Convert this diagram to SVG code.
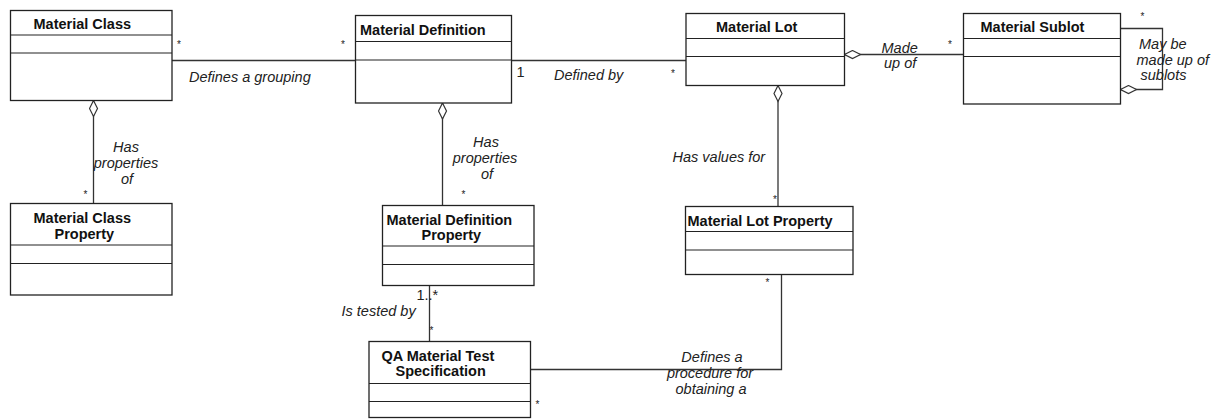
<svg xmlns="http://www.w3.org/2000/svg" width="1218" height="419" viewBox="0 0 1218 419">
<style>
.box{fill:#fff;stroke:#222;stroke-width:1.3}
.sep{stroke:#222;stroke-width:1.2}
.con{fill:none;stroke:#333;stroke-width:1.3}
.t{font-family:"Liberation Sans",Arial,sans-serif;font-size:14.5px;font-weight:bold;fill:#111}
.l{font-family:"Liberation Sans",Arial,sans-serif;font-size:14.5px;font-style:italic;fill:#222}
.m{font-family:"Liberation Sans",Arial,sans-serif;font-size:14.5px;fill:#222}
.s{font-family:"Liberation Sans",Arial,sans-serif;font-size:10px;fill:#222;text-anchor:middle}
</style>
<defs>
<marker id="agg" markerUnits="userSpaceOnUse" viewBox="-1 -1 18 10" refX="0" refY="4" markerWidth="18" markerHeight="10" orient="auto">
<path d="M0,4 L8,0 L16,4 L8,8 Z" fill="#fff" stroke="#333" stroke-width="1.2"/>
</marker>
</defs>
<rect width="1218" height="419" fill="#fff"/>
<g id="connectors">
<path class="con" d="M172,60.5 H356"/>
<path class="con" d="M512,60.5 H686"/>
<path class="con" d="M844.5,54.5 H963.5" marker-start="url(#agg)"/>
<path class="con" d="M1120.5,89.5 H1162.5 V28.5 H1120.5" marker-start="url(#agg)"/>
<path class="con" d="M93.5,100.5 V203.5" marker-start="url(#agg)"/>
<path class="con" d="M442.5,103 V205.5" marker-start="url(#agg)"/>
<path class="con" d="M778,85.5 V206.5" marker-start="url(#agg)"/>
<path class="con" d="M429.5,285.5 V341.5"/>
<path class="con" d="M530.5,369.5 H781.5 V274.5"/>
<text class="l" x="189" y="82">Defines a grouping</text>
<text class="l" x="554" y="80">Defined by</text>
<text class="l" x="881.5" y="52.5">Made</text>
<text class="l" x="884" y="68">up of</text>
<text class="l" x="1139" y="48.5">May be</text>
<text class="l" x="1136.5" y="64.5">made up of</text>
<text class="l" x="1140.5" y="80">sublots</text>
<text class="l" text-anchor="middle" x="126" y="152">Has</text>
<text class="l" text-anchor="middle" x="126" y="168">properties</text>
<text class="l" text-anchor="middle" x="127" y="184">of</text>
<text class="l" text-anchor="middle" x="486" y="147">Has</text>
<text class="l" text-anchor="middle" x="485" y="163">properties</text>
<text class="l" text-anchor="middle" x="487" y="179">of</text>
<text class="l" x="672.5" y="161.5">Has values for</text>
<text class="l" x="341.5" y="315.5">Is tested by</text>
<text class="l" text-anchor="middle" x="712" y="361.5">Defines a</text>
<text class="l" text-anchor="middle" x="710" y="377.5">procedure for</text>
<text class="l" text-anchor="middle" x="711" y="393.5">obtaining a</text>
<text class="m" x="516.5" y="76.5">1</text>
<text class="m" x="416.5" y="300">1..*</text>
<text class="s" x="179" y="48">*</text>
<text class="s" x="343" y="48">*</text>
<text class="s" x="673" y="77">*</text>
<text class="s" x="950" y="48">*</text>
<text class="s" x="1142.5" y="20">*</text>
<text class="s" x="85.5" y="197.5">*</text>
<text class="s" x="463.5" y="198">*</text>
<text class="s" x="775" y="203">*</text>
<text class="s" x="767.5" y="286">*</text>
<text class="s" x="537.5" y="407.5">*</text>
<text class="s" x="431.5" y="334">*</text>
</g>
<g id="material-class">
<rect class="box" x="10.5" y="10.5" width="161.5" height="90"/>
<line class="sep" x1="10.5" y1="35" x2="172" y2="35"/>
<line class="sep" x1="10.5" y1="53" x2="172" y2="53"/>
<text class="t" x="33.5" y="29">Material Class</text>
</g>
<g id="material-definition">
<rect class="box" x="355.5" y="15.5" width="156" height="87.5"/>
<line class="sep" x1="355.5" y1="41.5" x2="511.5" y2="41.5"/>
<line class="sep" x1="355.5" y1="60" x2="511.5" y2="60"/>
<text class="t" x="360" y="34.5">Material Definition</text>
</g>
<g id="material-lot">
<rect class="box" x="686" y="13.5" width="158.5" height="72"/>
<line class="sep" x1="686" y1="38.5" x2="844.5" y2="38.5"/>
<line class="sep" x1="686" y1="56.5" x2="844.5" y2="56.5"/>
<text class="t" x="716" y="31.5">Material Lot</text>
</g>
<g id="material-sublot">
<rect class="box" x="963.5" y="13.5" width="157" height="90.5"/>
<line class="sep" x1="963.5" y1="38.5" x2="1120.5" y2="38.5"/>
<line class="sep" x1="963.5" y1="56.5" x2="1120.5" y2="56.5"/>
<text class="t" x="980.5" y="31.5">Material Sublot</text>
</g>
<g id="material-class-property">
<rect class="box" x="10.5" y="203.5" width="161.5" height="91.5"/>
<line class="sep" x1="10.5" y1="245" x2="172" y2="245"/>
<line class="sep" x1="10.5" y1="263.5" x2="172" y2="263.5"/>
<text class="t" x="33.5" y="222.5">Material Class</text>
<text class="t" x="54.5" y="238.5">Property</text>
</g>
<g id="material-definition-property">
<rect class="box" x="382.5" y="205.5" width="151.5" height="80"/>
<line class="sep" x1="382.5" y1="246" x2="534" y2="246"/>
<line class="sep" x1="382.5" y1="264.5" x2="534" y2="264.5"/>
<text class="t" x="386.5" y="225">Material Definition</text>
<text class="t" x="421.5" y="240">Property</text>
</g>
<g id="material-lot-property">
<rect class="box" x="685.5" y="206.5" width="167.5" height="68"/>
<line class="sep" x1="685.5" y1="231.5" x2="853" y2="231.5"/>
<line class="sep" x1="685.5" y1="250" x2="853" y2="250"/>
<text class="t" x="687.5" y="225.5">Material Lot Property</text>
</g>
<g id="qa-material-test-specification">
<rect class="box" x="369" y="341.5" width="161.5" height="76"/>
<line class="sep" x1="369" y1="383.5" x2="530.5" y2="383.5"/>
<line class="sep" x1="369" y1="401.5" x2="530.5" y2="401.5"/>
<text class="t" x="381.5" y="360.5">QA Material Test</text>
<text class="t" x="395.5" y="375.5">Specification</text>
</g>
</svg>
